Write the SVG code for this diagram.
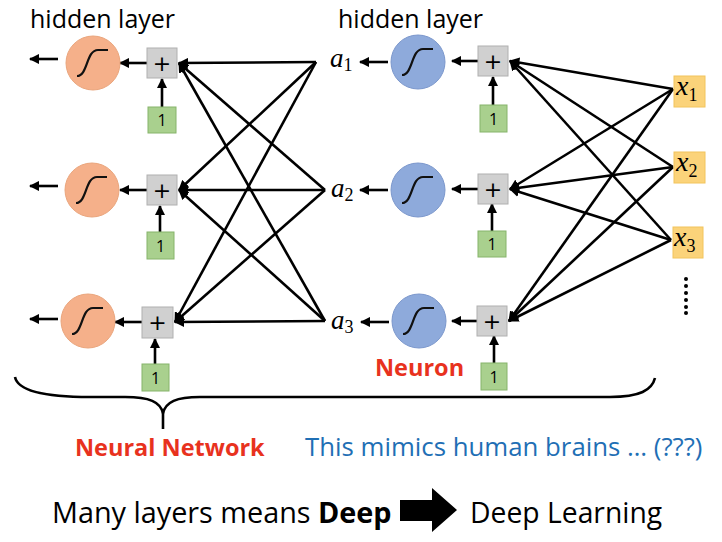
<svg xmlns="http://www.w3.org/2000/svg" xmlns:xlink="http://www.w3.org/1999/xlink" width="722" height="542" viewBox="0 0 722 542">
<defs>
<style>
.ln{stroke:#000;stroke-width:2.6;fill:none}
.ar{stroke:#000;stroke-width:2.6;fill:none;marker-end:url(#ah)}
.oc{fill:#f5b08a;stroke:#eaa57c;stroke-width:1}
.bc{fill:#8eaadb;stroke:#7b97cc;stroke-width:1}
.pb{fill:#d0d0d0;stroke:#b0b0b0;stroke-width:1}
.gb{fill:#a9d08e;stroke:#86b46a;stroke-width:1}
.yb{fill:#fbd37a;stroke:#f2c45c;stroke-width:1}
.sig{fill:none;stroke:#111;stroke-width:2.2}
.t{font-family:"Open Sans","Liberation Sans",sans-serif}
.pl{font-family:"DejaVu Sans","Liberation Sans",sans-serif;font-size:22px;text-anchor:middle}
.one{font-family:"Open Sans","Liberation Sans",sans-serif;font-size:16px;text-anchor:middle}
.m{font-family:"Liberation Serif","DejaVu Serif",serif;font-style:italic;font-size:27px}
.mx{font-family:"Liberation Serif","DejaVu Serif",serif;font-style:italic;font-size:28px}
.sub{font-style:normal;font-size:18px}
</style>
<marker id="ah" markerUnits="strokeWidth" markerWidth="4" markerHeight="4" refX="9" refY="5" orient="auto" viewBox="0 0 10 10">
<path d="M0,0 L10,5 L0,10 z" fill="#000"/>
</marker>
<path id="s" class="sig" d="M-16,13 C-5,13 -7,-13 5,-13 L15,-13"/>
</defs>
<rect width="722" height="542" fill="#fff"/>

<text class="t" x="30" y="28" font-size="25">hidden layer</text>
<text class="t" x="338" y="28" font-size="25">hidden layer</text>

<g id="connectors">
<line class="ar" x1="316" y1="62" x2="179" y2="63"/>
<line class="ar" x1="316" y1="62" x2="179" y2="190"/>
<line class="ar" x1="316" y1="62" x2="175" y2="322"/>
<line class="ar" x1="325" y1="190" x2="179" y2="63"/>
<line class="ar" x1="325" y1="190" x2="179" y2="190"/>
<line class="ar" x1="325" y1="190" x2="175" y2="322"/>
<line class="ar" x1="325" y1="321" x2="179" y2="63"/>
<line class="ar" x1="325" y1="321" x2="179" y2="190"/>
<line class="ar" x1="325" y1="321" x2="175" y2="322"/>
<line class="ar" x1="673" y1="89" x2="510" y2="61"/>
<line class="ar" x1="673" y1="89" x2="510" y2="189"/>
<line class="ar" x1="673" y1="89" x2="509" y2="321"/>
<line class="ar" x1="673" y1="167" x2="510" y2="61"/>
<line class="ar" x1="673" y1="167" x2="510" y2="189"/>
<line class="ar" x1="673" y1="167" x2="509" y2="321"/>
<line class="ar" x1="671" y1="240" x2="510" y2="61"/>
<line class="ar" x1="671" y1="240" x2="510" y2="189"/>
<line class="ar" x1="671" y1="240" x2="509" y2="321"/>
<line class="ar" x1="58" y1="59" x2="30" y2="59"/>
<line class="ar" x1="58" y1="186" x2="30" y2="186"/>
<line class="ar" x1="58" y1="319" x2="30" y2="319"/>
<line class="ar" x1="147" y1="63" x2="120" y2="63"/>
<line class="ar" x1="147" y1="190" x2="120" y2="190"/>
<line class="ar" x1="142" y1="322" x2="115" y2="322"/>
<line class="ar" x1="162" y1="107" x2="162" y2="79"/>
<line class="ar" x1="160" y1="232" x2="160" y2="206"/>
<line class="ar" x1="155" y1="364" x2="155" y2="339"/>
<line class="ar" x1="388" y1="62" x2="360" y2="62"/>
<line class="ar" x1="388" y1="190" x2="360" y2="190"/>
<line class="ar" x1="389" y1="322" x2="361" y2="322"/>
<line class="ar" x1="478" y1="61" x2="452" y2="61"/>
<line class="ar" x1="478" y1="189" x2="452" y2="189"/>
<line class="ar" x1="477" y1="321" x2="452" y2="321"/>
<line class="ar" x1="493" y1="105" x2="493" y2="77"/>
<line class="ar" x1="492" y1="231" x2="492" y2="204"/>
<line class="ar" x1="494" y1="363" x2="494" y2="336"/>
</g>

<g id="n-orange1"><circle class="oc" cx="93" cy="63" r="27"/><use href="#s" x="93" y="63"/></g>
<g id="n-orange2"><circle class="oc" cx="92" cy="190" r="27"/><use href="#s" x="92" y="190"/></g>
<g id="n-orange3"><circle class="oc" cx="88" cy="321" r="27"/><use href="#s" x="88" y="321"/></g>

<g id="n-plusL1"><rect class="pb" x="147" y="48" width="30" height="30"/><text class="pl" x="162" y="71">+</text></g>
<g id="n-plusL2"><rect class="pb" x="147" y="175" width="30" height="30"/><text class="pl" x="162" y="198">+</text></g>
<g id="n-plusL3"><rect class="pb" x="142" y="307" width="31" height="31"/><text class="pl" x="157.5" y="330">+</text></g>

<g id="n-oneL1"><rect class="gb" x="148" y="107" width="28" height="26"/><text class="one" x="162" y="126">1</text></g>
<g id="n-oneL2"><rect class="gb" x="147" y="232" width="27" height="27"/><text class="one" x="160.5" y="251.5">1</text></g>
<g id="n-oneL3"><rect class="gb" x="142" y="364" width="27" height="27"/><text class="one" x="155.5" y="383.5">1</text></g>

<g id="n-a1"><text class="m" x="330" y="67">a<tspan class="sub" dy="4">1</tspan></text></g>
<g id="n-a2"><text class="m" x="331" y="197">a<tspan class="sub" dy="4">2</tspan></text></g>
<g id="n-a3"><text class="m" x="331" y="329">a<tspan class="sub" dy="4">3</tspan></text></g>

<g id="n-blue1"><circle class="bc" cx="418" cy="62" r="27"/><use href="#s" x="418" y="62"/></g>
<g id="n-blue2"><circle class="bc" cx="418" cy="190" r="27"/><use href="#s" x="418" y="190"/></g>
<g id="n-blue3"><circle class="bc" cx="419" cy="321" r="27"/><use href="#s" x="419" y="321"/></g>

<g id="n-plusR1"><rect class="pb" x="478" y="46" width="30" height="30"/><text class="pl" x="493" y="69">+</text></g>
<g id="n-plusR2"><rect class="pb" x="478" y="174" width="30" height="30"/><text class="pl" x="493" y="197">+</text></g>
<g id="n-plusR3"><rect class="pb" x="477" y="306" width="30" height="30"/><text class="pl" x="492" y="329">+</text></g>

<g id="n-oneR1"><rect class="gb" x="480" y="105" width="27" height="27"/><text class="one" x="493.5" y="124.5">1</text></g>
<g id="n-oneR2"><rect class="gb" x="478" y="231" width="28" height="26"/><text class="one" x="492" y="250">1</text></g>
<g id="n-oneR3"><rect class="gb" x="481" y="363" width="26" height="27"/><text class="one" x="494" y="382.5">1</text></g>

<g id="n-x1"><rect class="yb" x="674" y="76" width="31" height="31"/><text class="mx" x="676" y="95">x<tspan class="sub" dy="6">1</tspan></text></g>
<g id="n-x2"><rect class="yb" x="674" y="152" width="31" height="31"/><text class="mx" x="676" y="171">x<tspan class="sub" dy="6">2</tspan></text></g>
<g id="n-x3"><rect class="yb" x="673" y="227" width="30" height="31"/><text class="mx" x="674" y="246">x<tspan class="sub" dy="6">3</tspan></text></g>

<g id="dots" fill="#000">
<circle cx="686" cy="279" r="2"/><circle cx="686" cy="286" r="2"/><circle cx="686" cy="293" r="2"/>
<circle cx="686" cy="300" r="2"/><circle cx="686" cy="307" r="2"/><circle cx="686" cy="313" r="2"/>
</g>

<text class="t" x="375" y="376" font-size="23.5" font-weight="bold" fill="#e8321e">Neuron</text>

<g id="brace">
<path class="ln" stroke-width="3" d="M15,377 C18,392 50,397 90,397 L125,397 C150,397 160,402 163,413 C166,402 176,397 200,397 L610,397 C640,397 652,390 655,378"/>
<line class="ln" stroke-width="3" x1="163" y1="412" x2="163" y2="429"/>
</g>

<text class="t" x="75" y="456" font-size="23.5" font-weight="bold" fill="#e8321e">Neural Network</text>
<text class="t" x="305" y="456" font-size="25.8" fill="#1f6fb5">This mimics human brains … (???)</text>

<text class="t" x="52" y="523" font-size="28.8">Many layers means <tspan font-weight="bold">Deep</tspan></text>
<path d="M400,500 L432,500 L432,488 L457,510 L432,532 L432,521 L400,521 z" fill="#000"/>
<text class="t" x="470" y="523" font-size="28.3">Deep Learning</text>
</svg>
